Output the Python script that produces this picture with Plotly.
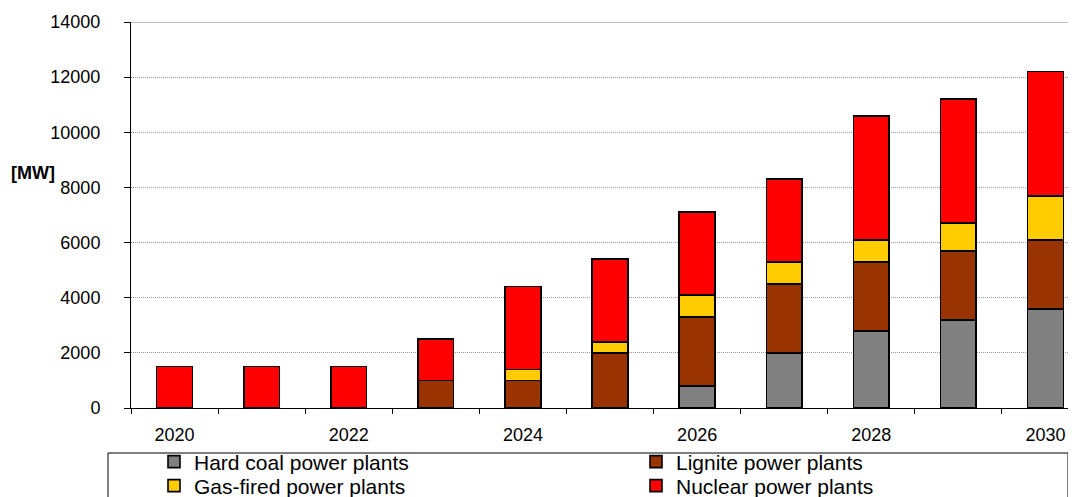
import plotly.graph_objects as go

years = ["2020", "2021", "2022", "2023", "2024", "2025", "2026", "2027", "2028", "2029", "2030"]
hard_coal = [0, 0, 0, 0, 0, 0, 800, 2000, 2800, 3200, 3600]
lignite = [0, 0, 0, 1000, 1000, 2000, 2500, 2500, 2500, 2500, 2500]
gas = [0, 0, 0, 0, 400, 400, 800, 800, 800, 1000, 1600]
nuclear = [1500, 1500, 1500, 1500, 3000, 3000, 3000, 3000, 4500, 4500, 4500]
tick_labels = ["2020", "", "2022", "", "2024", "", "2026", "", "2028", "", "2030"]
y_ticks = [0, 2000, 4000, 6000, 8000, 10000, 12000, 14000]

series = [
    ("Hard coal power plants", hard_coal, "#808080", "legend"),
    ("Lignite power plants", lignite, "#993300", "legend2"),
    ("Gas-fired power plants", gas, "#FFCC00", "legend3"),
    ("Nuclear power plants", nuclear, "#FF0000", "legend4"),
]

fig = go.Figure()
for name, vals, color, lg in series:
    fig.add_trace(go.Bar(
        x=years, y=[v if v else None for v in vals], name=name, legend=lg,
        marker=dict(color=color, line=dict(color="black", width=1.6)),
        width=0.41,
    ))

FONT = "Liberation Sans, Arial, sans-serif"

# page offset of the figure (browser body margin) compensated in margins
PX_L, PX_R = 131, 945  # plot left (page px) and plot width


def px_x(page_x):
    return (page_x - PX_L) / PX_R


def px_y(page_y):
    return (408 - page_y) / 386


def legend_at(page_text_x, page_y):
    return dict(
        orientation="v", traceorder="normal",
        x=px_x(page_text_x - 40), xanchor="left",
        y=px_y(page_y), yanchor="middle",
        font=dict(family=FONT, size=21, color="black"),
        bgcolor="rgba(0,0,0,0)", borderwidth=0,
        itemclick=False, itemdoubleclick=False,
    )


fig.update_layout(
    width=1076, height=497,
    barmode="stack",
    plot_bgcolor="white", paper_bgcolor="white",
    margin=dict(l=123, r=8, t=14, b=97, autoexpand=False),
    font=dict(family=FONT, size=18, color="black"),
    showlegend=True,
    legend=legend_at(194, 462),
    legend2=legend_at(676, 462),
    legend3=legend_at(194, 486),
    legend4=legend_at(676, 486),
    xaxis=dict(
        type="category", range=[-0.5, 10.35],
        tickmode="array", tickvals=years, ticktext=tick_labels,
        tickson="boundaries", ticks="outside", ticklen=5, tickcolor="black",
        ticklabelstandoff=10,
        showline=True, linecolor="black", linewidth=1,
        showgrid=False, zeroline=False,
        tickfont=dict(family=FONT, size=18, color="black"),
    ),
    yaxis=dict(
        range=[0, 14000], tickvals=y_ticks, tickformat="d",
        ticks="outside", ticklen=6, tickcolor="black",
        ticklabelstandoff=20,
        showline=True, linecolor="black", linewidth=1,
        showgrid=True, gridcolor="#999999", griddash="1px,1px", gridwidth=1,
        zeroline=False,
        tickfont=dict(family=FONT, size=18, color="black"),
    ),
    shapes=[
        dict(
            type="rect", xref="paper", yref="paper",
            x0=px_x(108), x1=px_x(1068), y0=-0.4, y1=px_y(453),
            line=dict(color="black", width=1), fillcolor="rgba(0,0,0,0)",
            layer="above",
        ),
        dict(
            type="line", xref="paper", yref="y",
            x0=0, x1=1, y0=14000, y1=14000,
            line=dict(color="#808080", width=1), layer="below",
        ),
    ],
    annotations=[dict(
        text="<b>[MW]</b>", xref="paper", yref="paper",
        x=px_x(33), y=px_y(173),
        showarrow=False, xanchor="center", yanchor="middle",
        font=dict(family=FONT, size=18, color="black"),
    )],
)

fig.write_html("out.html")
